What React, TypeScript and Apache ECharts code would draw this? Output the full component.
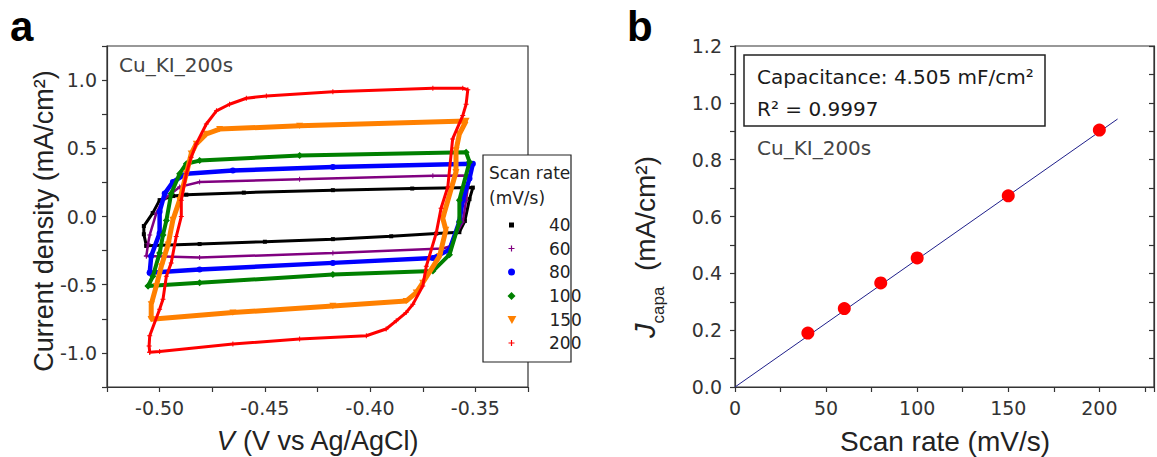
import React, { useEffect, useRef } from 'react';
import * as echarts from 'echarts';

// ---------- data: panel a (cyclic voltammograms) ----------
const seriesNames = ['40', '60', '80', '100', '150', '200'];

const cv40: [number, number][] = [
  [-0.5063, -0.215], [-0.5075, -0.13], [-0.5075, -0.07], [-0.5033, 0.025], [-0.5, 0.12], [-0.4935, 0.15],
  [-0.4873, 0.16], [-0.46, 0.175], [-0.4177, 0.193], [-0.38, 0.205], [-0.3512, 0.212], [-0.3528, 0.127],
  [-0.355, -0.033], [-0.3576, -0.115], [-0.3686, -0.125], [-0.39, -0.145], [-0.4177, -0.166], [-0.45, -0.185],
  [-0.481, -0.202], [-0.5063, -0.215],
];
const cv60: [number, number][] = [
  [-0.5063, -0.29], [-0.5055, -0.2], [-0.5047, -0.135], [-0.5016, 0.023], [-0.4984, 0.12], [-0.4905, 0.217],
  [-0.481, 0.253], [-0.4335, 0.273], [-0.3702, 0.298], [-0.3528, 0.3], [-0.3544, 0.12], [-0.356, -0.04],
  [-0.3623, -0.22], [-0.3655, -0.235], [-0.4177, -0.268], [-0.481, -0.3], [-0.5063, -0.29],
];
const cv80: [number, number][] = [
  [-0.5047, -0.413], [-0.504, -0.29], [-0.5, -0.122], [-0.5, 0.035], [-0.4976, 0.168], [-0.4937, 0.253],
  [-0.4873, 0.314], [-0.4652, 0.338], [-0.4177, 0.362], [-0.3512, 0.387], [-0.3528, 0.278], [-0.356, 0.12],
  [-0.3576, -0.038], [-0.3623, -0.244], [-0.3702, -0.304], [-0.4177, -0.34], [-0.481, -0.389], [-0.5047, -0.413],
];
const cv100: [number, number][] = [
  [-0.5055, -0.51], [-0.5032, -0.438], [-0.5, -0.268], [-0.4984, -0.135], [-0.4968, -0.03], [-0.4945, 0.168],
  [-0.4905, 0.314], [-0.4873, 0.387], [-0.481, 0.41], [-0.4335, 0.447], [-0.3544, 0.471], [-0.3528, 0.4],
  [-0.3576, 0.12], [-0.3576, -0.04], [-0.3623, -0.28], [-0.3702, -0.4], [-0.4177, -0.425], [-0.481, -0.486],
  [-0.5055, -0.51],
];
const cv150: [number, number][] = [
  [-0.504, -0.753], [-0.504, -0.644], [-0.5016, -0.51], [-0.4992, -0.365], [-0.496, -0.207], [-0.4937, -0.025],
  [-0.4905, 0.12], [-0.4873, 0.314], [-0.485, 0.46], [-0.4826, 0.532], [-0.4778, 0.605], [-0.4715, 0.641],
  [-0.4335, 0.665], [-0.3544, 0.7], [-0.3576, 0.605], [-0.3592, 0.484], [-0.3592, 0.326], [-0.3655, -0.013],
  [-0.364, -0.098], [-0.367, -0.29], [-0.375, -0.486], [-0.3781, -0.558], [-0.3829, -0.62], [-0.4177, -0.656],
  [-0.4652, -0.704], [-0.504, -0.753],
];
const cv200: [number, number][] = [
  [-0.5047, -0.995], [-0.505, -0.95], [-0.5047, -0.874], [-0.5, -0.68], [-0.4984, -0.607], [-0.4968, -0.438],
  [-0.4945, -0.34], [-0.4921, -0.147], [-0.4897, 0], [-0.4897, 0.12], [-0.4873, 0.314], [-0.485, 0.435],
  [-0.4826, 0.532], [-0.4778, 0.678], [-0.473, 0.775], [-0.4668, 0.823], [-0.4588, 0.867], [-0.4493, 0.884],
  [-0.4177, 0.915], [-0.3702, 0.94], [-0.356, 0.94], [-0.3536, 0.93], [-0.3544, 0.823], [-0.356, 0.74],
  [-0.3608, 0.569], [-0.3631, 0.217], [-0.3663, 0.06], [-0.3686, -0.122], [-0.3733, -0.365], [-0.375, -0.51],
  [-0.3797, -0.644], [-0.3829, -0.704], [-0.3876, -0.765], [-0.3924, -0.825], [-0.4018, -0.874], [-0.4335, -0.898],
  [-0.4652, -0.935], [-0.5, -0.99], [-0.5047, -0.995],
];
const cvData = [cv40, cv60, cv80, cv100, cv150, cv200];

const leftXLabels = ['-0.50', '-0.45', '-0.40', '-0.35'];
const leftYLabels = ['-1.0', '-0.5', '0.0', '0.5', '1.0'];

// ---------- data: panel b ----------
const scanRates = [40, 60, 80, 100, 150, 200];
const jCapa = [0.19, 0.276, 0.366, 0.454, 0.673, 0.904];
const fitX = [0, 210];
const fitY = [0, 0.943];
const rightXLabels = ['0', '50', '100', '150', '200'];
const rightYLabels = ['0.0', '0.2', '0.4', '0.6', '0.8', '1.0', '1.2'];

// ---------- styles ----------
const FONT = '"Liberation Sans", Arial, Helvetica, sans-serif';
const WFONT = '"DejaVu Sans", "Liberation Sans", Arial, sans-serif';
const colors = ['#000000', '#800080', '#0000ff', '#008000', '#ff8000', '#ff0000'];
const PLUS = 'path://M4,0H6V4H10V6H6V10H4V6H0V4H4Z';
const SQUARE = 'path://M0,0H10V10H0Z';
const CIRCLE = 'path://M5,0A5,5,0,1,1,5,10A5,5,0,1,1,5,0Z';
const DIAMOND = 'path://M5,0L10,5L5,10L0,5Z';
const TRI_DOWN = 'path://M0,0H10L5,9Z';
const symbols = [SQUARE, PLUS, CIRCLE, DIAMOND, TRI_DOWN, PLUS];
const symbolSizes = [4, 5, 6, 7, 7, 5];
const legendSizes = [5, 6, 7, 8, 8, 6];
const lineWidths = [3, 2.5, 4.5, 4, 5, 3];
const legendRowsY = [225, 248.5, 272, 296, 320, 343];

const axisLineStyle = { color: '#333', width: 1.2 };
const labelStyle = { color: '#333', fontSize: 19, fontFamily: WFONT };

export default function App() {
  const ref = useRef<HTMLDivElement>(null);

  useEffect(() => {
    if (!ref.current) return;
    const chart = echarts.init(ref.current, undefined, { renderer: 'svg' });

    const leftSeries = seriesNames.map((name, i) => ({
      type: 'line',
      name,
      xAxisIndex: 0,
      yAxisIndex: 0,
      data: cvData[i],
      symbol: symbols[i],
      symbolSize: symbolSizes[i],
      symbolKeepAspect: true,
      showSymbol: true,
      smooth: false,
      silent: true,
      lineStyle: { color: colors[i], width: lineWidths[i] },
      itemStyle: { color: colors[i] },
      z: 2 + i,
    }));

    const legends = seriesNames.map((name, i) => ({
      data: [{ name, icon: symbols[i] }],
      orient: 'vertical',
      left: 511.5 - legendSizes[i] / 2,
      top: legendRowsY[i] - 10,
      padding: 0,
      itemWidth: 43,
      itemHeight: legendSizes[i],
      itemGap: 0,
      symbolKeepAspect: true,
      selectedMode: false,
      z: 30,
      textStyle: { color: '#222', fontSize: 17, fontFamily: WFONT, lineHeight: 20, padding: [0, 0, 0, 11] },
    }));

    const option: any = {
      animation: false,
      backgroundColor: '#ffffff',
      textStyle: { fontFamily: FONT },
      grid: [
        { left: 107, top: 46, width: 421, height: 341, show: true, borderColor: '#333', borderWidth: 1.2, backgroundColor: 'transparent' },
        { left: 735, top: 46, width: 420, height: 341, show: true, borderColor: '#333', borderWidth: 1.2, backgroundColor: 'transparent' },
      ],
      legend: legends,
      xAxis: [
        {
          type: 'value', gridIndex: 0, min: -0.525, max: -0.325, interval: 0.025,
          splitLine: { show: false },
          axisLine: { show: true, onZero: false, lineStyle: axisLineStyle },
          axisTick: { show: true, length: 5, lineStyle: axisLineStyle },
          axisLabel: {
            ...labelStyle, margin: 11,
            formatter: (v: number) => { const s = v.toFixed(2); return leftXLabels.includes(s) ? s : ''; },
          },
        },
        {
          type: 'value', gridIndex: 1, min: 0, max: 230, interval: 25,
          splitLine: { show: false },
          axisLine: { show: true, onZero: false, lineStyle: axisLineStyle },
          axisTick: { show: true, length: 5, lineStyle: axisLineStyle },
          axisLabel: {
            ...labelStyle, margin: 11,
            formatter: (v: number) => { const s = String(Math.round(v)); return rightXLabels.includes(s) && Math.abs(v - Math.round(v)) < 1e-6 ? s : ''; },
          },
        },
      ],
      yAxis: [
        {
          type: 'value', gridIndex: 0, min: -1.25, max: 1.25, interval: 0.25,
          splitLine: { show: false },
          axisLine: { show: true, onZero: false, lineStyle: axisLineStyle },
          axisTick: { show: true, length: 5, lineStyle: axisLineStyle },
          axisLabel: {
            ...labelStyle, margin: 10,
            formatter: (v: number) => { const s = (Math.abs(v) < 1e-9 ? 0 : v).toFixed(1); return leftYLabels.includes(s) && Math.abs(v * 2 - Math.round(v * 2)) < 1e-6 ? s : ''; },
          },
        },
        {
          type: 'value', gridIndex: 1, min: 0, max: 1.2, interval: 0.1,
          splitLine: { show: false },
          axisLine: { show: true, onZero: false, lineStyle: axisLineStyle },
          axisTick: { show: true, length: 5, lineStyle: axisLineStyle },
          axisLabel: {
            ...labelStyle, margin: 13,
            formatter: (v: number) => { const s = v.toFixed(1); return rightYLabels.includes(s) && Math.abs(v * 5 - Math.round(v * 5)) < 1e-6 ? s : ''; },
          },
        },
        {
          type: 'value', gridIndex: 1, min: 0, max: 1.2, interval: 0.1, position: 'right',
          splitLine: { show: false },
          axisLine: { show: true, onZero: false, lineStyle: axisLineStyle },
          axisTick: { show: true, inside: true, length: 5, lineStyle: axisLineStyle },
          axisLabel: { show: false },
        },
      ],
      series: [
        ...leftSeries,
        {
          type: 'line', name: 'fit', xAxisIndex: 1, yAxisIndex: 1,
          data: fitX.map((x, i) => [x, fitY[i]]),
          showSymbol: false, symbol: 'none', silent: true,
          lineStyle: { color: '#1f1f8a', width: 1 },
          z: 3,
        },
        {
          type: 'scatter', name: 'Jcapa', xAxisIndex: 1, yAxisIndex: 1,
          data: scanRates.map((x, i) => [x, jCapa[i]]),
          symbol: 'circle', symbolSize: 13, silent: true,
          itemStyle: { color: '#ff0000', opacity: 1 },
          z: 4,
        },
      ],
      graphic: [
        { type: 'text', x: 10, y: 26, z: 50, style: { text: 'a', font: `bold 42px ${FONT}`, fill: '#000', align: 'left', verticalAlign: 'middle', textAlign: 'left', textVerticalAlign: 'middle' } },
        { type: 'text', x: 627, y: 26, z: 50, style: { text: 'b', font: `bold 42px ${FONT}`, fill: '#000', align: 'left', verticalAlign: 'middle', textAlign: 'left', textVerticalAlign: 'middle' } },
        { type: 'text', x: 119, y: 65, z: 50, style: { text: 'Cu_KI_200s', font: `20px ${WFONT}`, fill: '#444', align: 'left', verticalAlign: 'middle', textAlign: 'left', textVerticalAlign: 'middle' } },
        {
          type: 'text', x: 44, y: 221, rotation: Math.PI / 2, z: 50,
          style: { text: 'Current density (mA/cm²)', font: `27px ${FONT}`, fill: '#222', align: 'center', verticalAlign: 'middle', textAlign: 'center', textVerticalAlign: 'middle' },
        },
        {
          type: 'text', x: 318, y: 441, z: 50,
          style: {
            text: '{i|V} (V vs Ag/AgCl)', font: `27px ${FONT}`, fill: '#222', align: 'center', verticalAlign: 'middle', textAlign: 'center', textVerticalAlign: 'middle',
            rich: { i: { fontStyle: 'italic', fontSize: 27, fontFamily: FONT, fill: '#222' } },
          },
        },
        // legend box
        { type: 'rect', z: 20, shape: { x: 483, y: 155, width: 88, height: 207 }, style: { fill: '#fff', stroke: '#222', lineWidth: 1.2 } },
        { type: 'text', x: 489, y: 173, z: 25, style: { text: 'Scan rate', font: `17px ${WFONT}`, fill: '#222', align: 'left', verticalAlign: 'middle', textAlign: 'left', textVerticalAlign: 'middle' } },
        { type: 'text', x: 489, y: 198, z: 25, style: { text: '(mV/s)', font: `17px ${WFONT}`, fill: '#222', align: 'left', verticalAlign: 'middle', textAlign: 'left', textVerticalAlign: 'middle' } },
        // panel b annotations
        { type: 'rect', z: 20, shape: { x: 744, y: 55, width: 301, height: 71 }, style: { fill: '#fff', stroke: '#222', lineWidth: 1.5 } },
        { type: 'text', x: 757, y: 77, z: 25, style: { text: 'Capacitance: 4.505 mF/cm²', font: `20px ${WFONT}`, fill: '#1a1a1a', align: 'left', verticalAlign: 'middle', textAlign: 'left', textVerticalAlign: 'middle' } },
        { type: 'text', x: 757, y: 109, z: 25, style: { text: 'R² = 0.9997', font: `20px ${WFONT}`, fill: '#1a1a1a', align: 'left', verticalAlign: 'middle', textAlign: 'left', textVerticalAlign: 'middle' } },
        { type: 'text', x: 757, y: 148, z: 25, style: { text: 'Cu_KI_200s', font: `20px ${WFONT}`, fill: '#444', align: 'left', verticalAlign: 'middle', textAlign: 'left', textVerticalAlign: 'middle' } },
        {
          type: 'text', x: 645, y: 247, rotation: Math.PI / 2, z: 50,
          style: {
            text: '{j|J}{s|capa}{m|  (mA/cm²)}', fill: '#222', align: 'center', verticalAlign: 'middle', textAlign: 'center', textVerticalAlign: 'middle',
            rich: {
              j: { fontStyle: 'italic', fontSize: 29, fontFamily: FONT, lineHeight: 44, fill: '#222' },
              s: { fontSize: 17, fontFamily: FONT, lineHeight: 44, verticalAlign: 'bottom', fill: '#222' },
              m: { fontSize: 28, fontFamily: FONT, lineHeight: 44, fill: '#222' },
            },
          },
        },
        {
          type: 'text', x: 945, y: 441, z: 50,
          style: { text: 'Scan rate (mV/s)', font: `28px ${FONT}`, fill: '#222', align: 'center', verticalAlign: 'middle', textAlign: 'center', textVerticalAlign: 'middle' },
        },
      ],
    };

    chart.setOption(option);
    return () => chart.dispose();
  }, []);

  return <div ref={ref} style={{ position: 'fixed', left: 0, top: 0, width: 1157, height: 457 }} />;
}
